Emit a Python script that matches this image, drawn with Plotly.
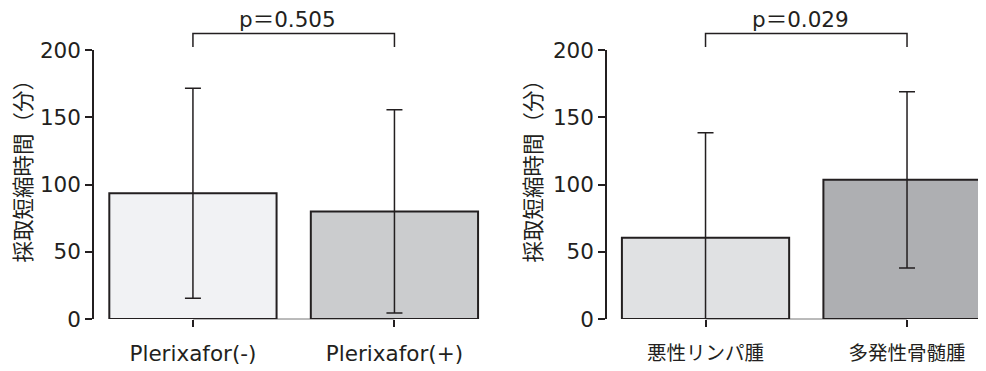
import plotly.graph_objects as go

# ---- data ----
groups_left = ["Plerixafor(-)", "Plerixafor(+)"]
means_left = [93.5, 80.0]
sd_left = [78.0, 75.5]
colors_left = ["#f1f2f4", "#cbccce"]
p_left = "p＝0.505"

groups_right = ["悪性リンパ腫", "多発性骨髄腫"]
means_right = [60.4, 103.5]
sd_right = [78.0, 65.5]
colors_right = ["#e0e1e3", "#aeafb2"]
p_right = "p＝0.029"

y_ticks = [0, 50, 100, 150, 200]
y_title = "採取短縮時間（分）"

INK = "#231f20"
FONT = "DejaVu Sans, Noto Sans CJK JP, sans-serif"
LAT = 21.5
CJK = 19.5
TITLE = 21.5

fig = go.Figure()

def add_bars(xa, ya, cats, means, sds, colors):
    fig.add_trace(go.Bar(
        x=cats, y=means,
        marker=dict(color=colors, line=dict(color=INK, width=2)),
        width=0.83,
        error_y=dict(type="data", array=sds, visible=True, symmetric=True,
                     color=INK, thickness=1.5, width=8),
        xaxis=xa, yaxis=ya, showlegend=False, hoverinfo="skip",
    ))

add_bars("x", "y", groups_left, means_left, sd_left, colors_left)
add_bars("x2", "y2", groups_right, means_right, sd_right, colors_right)

OFF = 8  # page body margin
W, H = 986 - OFF, 371 - OFF
mt = 50 - OFF
mb = H - (319 - OFF)
ph = H - mt - mb

def py(px):
    return (319 - px) / ph

def pxx(px):
    return (px - OFF) / W

xcommon = dict(type="category", showline=False, showgrid=False, zeroline=False,
               ticks="outside", ticklen=7, tickwidth=1.5, tickcolor=INK,
               automargin=False, fixedrange=True)
ycommon = dict(range=[0, 200], tickvals=y_ticks, showline=True, linewidth=1.5,
               linecolor=INK, showgrid=False, zeroline=False, ticks="outside",
               ticklen=7, tickwidth=1.5, tickcolor=INK,
               tickfont=dict(size=LAT, color=INK, family=FONT),
               automargin=False, domain=[0, 1])

fig.update_layout(
    width=W, height=H,
    margin=dict(l=0, r=0, t=mt, b=mb),
    paper_bgcolor="white", plot_bgcolor="white",
    font=dict(family=FONT, color=INK),
    xaxis=dict(xcommon, domain=[pxx(94), pxx(495)], range=[-0.491, 1.499],
               tickfont=dict(size=LAT, color=INK, family=FONT), ticklabelstandoff=8),
    yaxis=dict(ycommon, anchor="x"),
    xaxis2=dict(xcommon, domain=[pxx(607), 1.0], range=[-0.489, 1.392], anchor="y2",
                tickfont=dict(size=CJK, color=INK, family=FONT), ticklabelstandoff=10),
    yaxis2=dict(ycommon, anchor="x2"),
)

shapes = []
annotations = []
for xr, ptxt, title_x in (("x", p_left, 22.5), ("x2", p_right, 532.5)):
    shapes.append(dict(type="line", xref=xr, yref="paper", x0=0, x1=1, y0=0, y1=0,
                       line=dict(color="#777777", width=1), layer="below"))
    shapes.append(dict(type="path", xref=xr, yref="paper",
                       path=f"M 0,{py(47)} L 0,{py(33.5)} L 1,{py(33.5)} L 1,{py(47)}",
                       line=dict(color=INK, width=1.5)))
    annotations.append(dict(text=ptxt, xref=xr, yref="paper", x=0.47, y=py(19.5),
                            showarrow=False, font=dict(size=LAT, color=INK, family=FONT),
                            xanchor="center", yanchor="middle", borderpad=0))
    annotations.append(dict(text=y_title, xref="paper", yref="paper", x=pxx(title_x),
                            y=py(166), textangle=-90, showarrow=False,
                            font=dict(size=TITLE, color=INK, family=FONT),
                            xanchor="center", yanchor="middle"))
fig.update_layout(shapes=shapes, annotations=annotations)

fig.write_html("out.html")
